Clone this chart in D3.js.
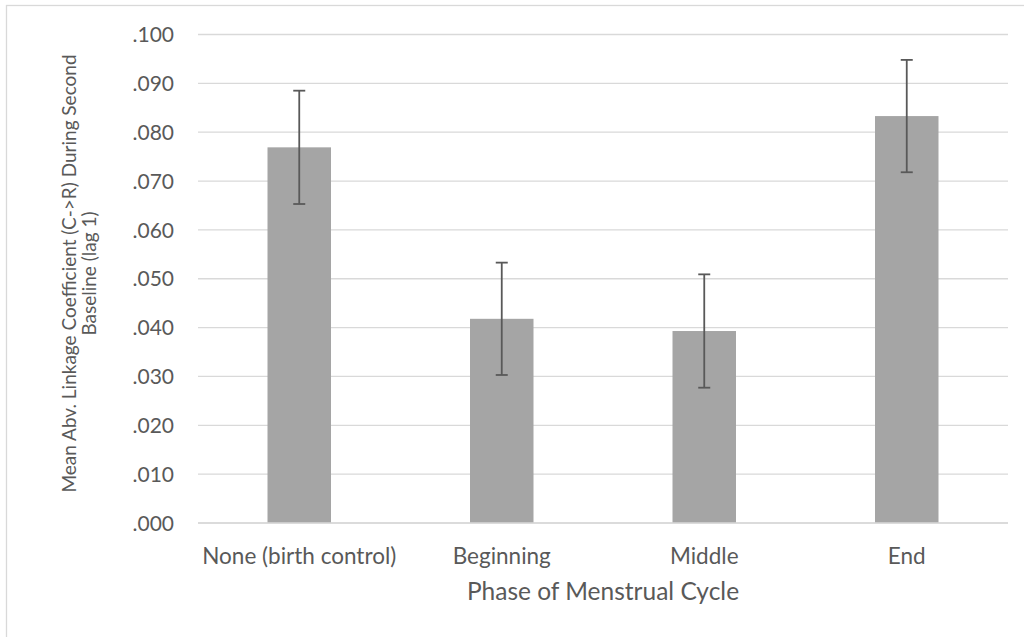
<!DOCTYPE html>
<html>
<head>
<meta charset="utf-8">
<script src="https://cdn.jsdelivr.net/npm/d3@7"></script>
<style>
  html, body { margin: 0; padding: 0; background: #fff; }
  svg { display: block; }
  text { font-family: Lato, "Open Sans", sans-serif; fill: #595959; }
</style>
</head>
<body>
<svg id="chart" width="1024" height="637"></svg>
<script>
// Mean above-baseline linkage coefficient by menstrual phase
const categories = ["None (birth control)", "Beginning", "Middle", "End"];
const means = [0.0769, 0.0418, 0.0393, 0.0833];
const errors = [0.0116, 0.0115, 0.0116, 0.0115];
const yTicks = [0, 0.01, 0.02, 0.03, 0.04, 0.05, 0.06, 0.07, 0.08, 0.09, 0.10];
const xTitle = "Phase of Menstrual Cycle";
const yTitleLines = ["Mean Abv. Linkage Coefficient (C->R) During Second", "Baseline (lag 1)"];

const rows = categories.map((c, i) => ({ cat: c, mean: means[i], err: errors[i] }));

const W = 1024, H = 637;
const plot = { left: 198, right: 1008, top: 34.5, bottom: 523 };

const svg = d3.select("#chart");

// chart frame
svg.append("rect")
  .attr("x", 6.5).attr("y", 5.5)
  .attr("width", W + 20).attr("height", H + 20)
  .attr("fill", "#fff").attr("stroke", "#d9d9d9").attr("stroke-width", 1.3);

const x = d3.scaleBand()
  .domain(categories)
  .range([plot.left, plot.right])
  .paddingInner(0.6865)
  .paddingOuter(0.6865 / 2);

const y = d3.scaleLinear()
  .domain([0, 0.10])
  .range([plot.bottom, plot.top]);

const fmt = d => d3.format(".3f")(d).replace(/^0/, "");

// gridlines
svg.append("g")
  .selectAll("line")
  .data(yTicks)
  .join("line")
  .attr("x1", plot.left).attr("x2", plot.right)
  .attr("y1", d => y(d)).attr("y2", d => y(d))
  .attr("stroke", "#d9d9d9").attr("stroke-width", 1.3);

// y axis labels
const yAxis = d3.axisLeft(y).tickValues(yTicks).tickFormat(fmt).tickSize(0).tickPadding(0);
const yg = svg.append("g").attr("transform", "translate(174,0)").call(yAxis);
yg.select(".domain").remove();
yg.selectAll("text")
  .attr("font-family", "Lato, 'Open Sans', sans-serif")
  .attr("font-size", 21)
  .attr("fill", "#595959")
  .attr("dy", "0.34em");

// bars
svg.append("g")
  .selectAll("rect")
  .data(rows)
  .join("rect")
  .attr("x", d => x(d.cat))
  .attr("width", x.bandwidth())
  .attr("y", d => y(d.mean))
  .attr("height", d => y(0) - y(d.mean))
  .attr("fill", "#a5a5a5");

// baseline
svg.append("line")
  .attr("x1", plot.left).attr("x2", plot.right)
  .attr("y1", y(0)).attr("y2", y(0))
  .attr("stroke", "#d9d9d9").attr("stroke-width", 1.3);

// error bars
const eg = svg.append("g").attr("stroke", "#595959").attr("stroke-width", 1.8);
const cx = d => x(d.cat) + x.bandwidth() / 2;
const capHalf = 6;
eg.selectAll("line.stem").data(rows).join("line").attr("class", "stem")
  .attr("x1", cx).attr("x2", cx)
  .attr("y1", d => y(d.mean + d.err)).attr("y2", d => y(d.mean - d.err));
eg.selectAll("line.capTop").data(rows).join("line").attr("class", "capTop")
  .attr("x1", d => cx(d) - capHalf).attr("x2", d => cx(d) + capHalf)
  .attr("y1", d => y(d.mean + d.err)).attr("y2", d => y(d.mean + d.err));
eg.selectAll("line.capBot").data(rows).join("line").attr("class", "capBot")
  .attr("x1", d => cx(d) - capHalf).attr("x2", d => cx(d) + capHalf)
  .attr("y1", d => y(d.mean - d.err)).attr("y2", d => y(d.mean - d.err));

// x axis labels
const xAxis = d3.axisBottom(x).tickSize(0).tickPadding(0);
const xg = svg.append("g").attr("transform", `translate(0,${564})`).call(xAxis);
xg.select(".domain").remove();
xg.selectAll("text")
  .attr("font-family", "Lato, 'Open Sans', sans-serif")
  .attr("font-size", 22.5)
  .attr("fill", "#595959")
  .attr("dy", 0);

// x title
svg.append("text")
  .attr("x", (plot.left + plot.right) / 2)
  .attr("y", 600)
  .attr("text-anchor", "middle")
  .attr("font-size", 24.5)
  .text(xTitle);

// y title (two lines, rotated)
const yt = svg.append("text")
  .attr("transform", "translate(76,273.5) rotate(-90)")
  .attr("text-anchor", "middle")
  .attr("font-size", 19);
yt.selectAll("tspan").data(yTitleLines).join("tspan")
  .attr("x", 0)
  .attr("dy", (d, i) => i === 0 ? 0 : 20)
  .text(d => d);
</script>
</body>
</html>
